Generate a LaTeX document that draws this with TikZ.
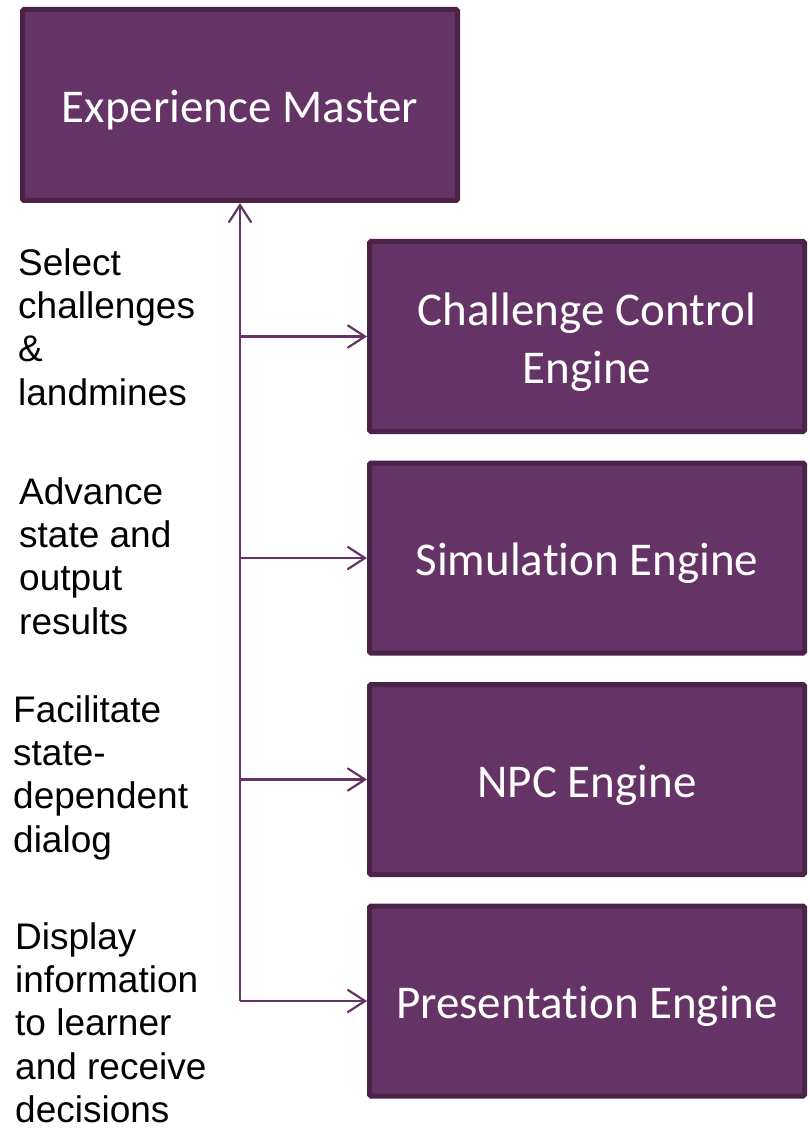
\documentclass[tikz,border=0pt]{standalone}
\usepackage{fontspec}
\setmainfont{Liberation Sans}
\newfontfamily\boxfont[Ligatures={NoCommon,NoRequired,NoContextual},Contextuals=NoAlternate]{Carlito}
\usetikzlibrary{arrows.meta}

\definecolor{plum}{HTML}{663366}
\definecolor{plumedge}{HTML}{4B2348}

% centred engine caption, drawn a little below the box centre
\newcommand\enginetext[1]{\raisebox{-6pt}[\height][\depth]{\begin{tabular}{@{}c@{}}#1\end{tabular}}}
% keeps "t" and "i" as separate letters
\newcommand\ti{t\kern0pt i}

\tikzset{
  engine/.style={draw=plumedge, fill=plum, line width=5pt, rounded corners=1.5pt,
    minimum width=435pt, minimum height=190pt, inner sep=0pt,
    text=white, font=\boxfont\fontsize{47}{58}\selectfont},
  note/.style={anchor=north west, inner sep=0pt, align=left,
    font=\fontsize{37}{43.4}\selectfont, text=black},
  flow/.style={draw=plum, line width=2.2pt,
    -{Straight Barb[length=17pt,width=22pt,line width=2.2pt,line cap=round]}}
}

\begin{document}
\begin{tikzpicture}[x=1pt,y=-1pt]
  \useasboundingbox (0,0) rectangle (810,1131);

  % master and engine boxes
  \node[engine, minimum height=191pt] (em) at (240,105) {\enginetext{Experience Master}};
  \node[engine] (cc) at (587,336.5) {\enginetext{Challenge Control\\Engine}};
  \node[engine] (sim) at (587,558) {\enginetext{Simula\ti on Engine}};
  \node[engine] (npc) at (587,779.5) {\enginetext{NPC Engine}};
  \node[engine] (pres) at (587,1001) {\enginetext{Presenta\ti on Engine}};

  % trunk line feeding the engines
  \coordinate (trunk) at (240,1001);
  \draw[flow] (trunk) -- (trunk |- em.south);
  \draw[flow] (trunk |- cc.west) -- (cc.west);
  \draw[flow] (trunk |- sim.west) -- (sim.west);
  \draw[flow] (trunk |- npc.west) -- (npc.west);
  \draw[flow] (trunk) -- (pres.west);

  % task descriptions
  \node[note] (n1) at (18,248) {Select\\challenges\\\&\\landmines};
  \node[note] (n2) at (19,477) {Advance\\state and\\output\\results};
  \node[note] (n3) at (13,695) {Facilitate\\state-\\dependent\\dialog};
  \node[note] (n4) at (15,922) {Display\\information\\to learner\\and receive\\decisions};
\end{tikzpicture}
\end{document}
